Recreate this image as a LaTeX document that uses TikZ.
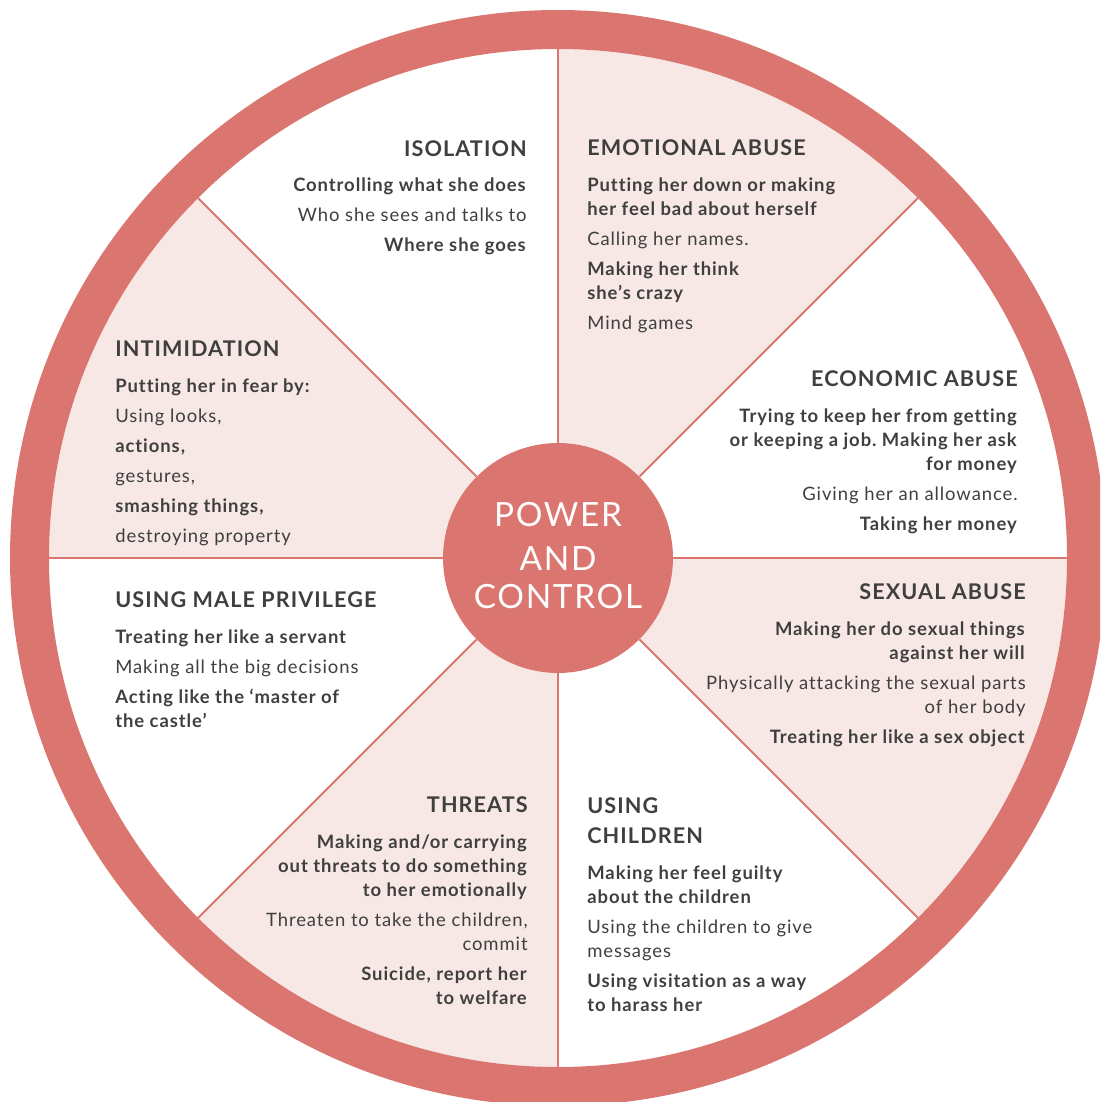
\documentclass[tikz,border=0pt]{standalone}
\usepackage{fontspec}
\setmainfont{Lato}[LetterSpace=5,Ligatures=NoCommon]
\usepackage{xcolor}

\definecolor{ringred}{HTML}{DB7570}
\definecolor{blush}{HTML}{F7E8E5}
\definecolor{ink}{HTML}{3F3F3F}

\newcommand\wheelhead{\fontsize{12.3}{17.07}\selectfont\bfseries}
\newcommand\wheelbody{\fontsize{10.5}{13.66}\selectfont}
\newcommand\hubfont{\fontsize{19}{21.6}\selectfont}
\frenchspacing

\begin{document}
\begin{tikzpicture}[x=0.02cm,y=-0.02cm,
  head/.style={text=ink, font=\wheelhead, inner sep=0pt},
  body/.style={text=ink, font=\wheelbody, inner sep=0pt},
  spoke/.style={draw=ringred, line width=0.04cm}]
\useasboundingbox (0,0) rectangle (1100,1102);
\clip (0,0) rectangle (1100,1102);

\coordinate (mid) at (558,558);
% ends of the spokes on the rim
\coordinate (r0) at (1067,558);
\coordinate (r45) at (918,198);
\coordinate (r90) at (558,49);
\coordinate (r135) at (198,198);
\coordinate (r180) at (49,558);
\coordinate (r225) at (198,918);
\coordinate (r270) at (558,1067);
\coordinate (r315) at (918,918);

% shaded sectors
\fill[blush] (mid) -- (r45) arc[start angle=-45, end angle=-90, radius=509] -- cycle;
\fill[blush] (mid) -- (r135) arc[start angle=-135, end angle=-180, radius=509] -- cycle;
\fill[blush] (mid) -- (r225) arc[start angle=-225, end angle=-270, radius=509] -- cycle;
\fill[blush] (mid) -- (r315) arc[start angle=-315, end angle=-360, radius=509] -- cycle;

\node[circle, fill=ringred, minimum size=4.6cm, inner sep=0pt, text=white,
  font=\hubfont, align=center, text depth=3.4pt] (hub) at (mid) {POWER\\[0.12cm]AND\\CONTROL};

\draw[spoke] (hub.0) -- (r0);
\draw[spoke] (hub.45) -- (r45);
\draw[spoke] (hub.90) -- (r90);
\draw[spoke] (hub.135) -- (r135);
\draw[spoke] (hub.180) -- (r180);
\draw[spoke] (hub.225) -- (r225);
\draw[spoke] (hub.270) -- (r270);
\draw[spoke] (hub.315) -- (r315);

% rim
\fill[ringred, even odd rule] (mid) circle (548) (mid) circle (509);

% isolation
\node[head, anchor=base east] (isohead) at (527,156) {ISOLATION};
\node[body, align=right, anchor=base east] (isobody) at (527,251)
  {\textbf{Controlling what she does}\\[0.12cm]
   Who she sees and talks to\\[0.12cm]
   \textbf{Where she goes}};

% emotional abuse
\node[head, anchor=base west] (emohead) at (587,155) {EMOTIONAL ABUSE};
\node[body, align=left, anchor=base west] (emobody) at (587,329)
  {\textbf{Putting her down or making}\\
   \textbf{her feel bad about herself}\\[0.12cm]
   Calling her names.\\[0.12cm]
   \textbf{Making her think}\\
   \textbf{she’s crazy}\\[0.12cm]
   Mind games};

% economic abuse
\node[head, anchor=base east] (ecohead) at (1018,386) {ECONOMIC ABUSE};
\node[body, align=right, anchor=base east] (ecobody) at (1018,530)
  {\textbf{Trying to keep her from getting}\\
   \textbf{or keeping a job. Making her ask}\\
   \textbf{for money}\\[0.12cm]
   Giving her an allowance.\\[0.12cm]
   \textbf{Taking her money}};

% sexual abuse
\node[head, anchor=base east] (sexhead) at (1026,599) {SEXUAL ABUSE};
\node[body, align=right, anchor=base east] (sexbody) at (1026,743)
  {\textbf{Making her do sexual things}\\
   \textbf{against her will}\\[0.12cm]
   Physically attacking the sexual parts\\
   of her body\\[0.12cm]
   \textbf{Treating her like a sex object}};

% using children
\node[head, align=left, anchor=base west] (kidhead) at (587,843) {USING\\CHILDREN};
\node[body, align=left, anchor=base west] (kidbody) at (587,1011)
  {\textbf{Making her feel guilty}\\
   \textbf{about the children}\\[0.12cm]
   Using the children to give\\
   messages\\[0.12cm]
   \textbf{Using visitation as a way}\\
   \textbf{to harass her}};

% threats
\node[head, anchor=base east] (thrhead) at (528,812) {THREATS};
\node[body, align=right, anchor=base east] (thrbody) at (528,1004)
  {\textbf{Making and/or carrying}\\
   \textbf{out threats to do something}\\
   \textbf{to her emotionally}\\[0.12cm]
   Threaten to take the children,\\
   commit\\[0.12cm]
   \textbf{Suicide, report her}\\
   \textbf{to welfare}};

% using male privilege
\node[head, anchor=base west] (malhead) at (115,607) {USING MALE PRIVILEGE};
\node[body, align=left, anchor=base west] (malbody) at (115,727)
  {\textbf{Treating her like a servant}\\[0.12cm]
   Making all the big decisions\\[0.12cm]
   \textbf{Acting like the ‘master of}\\
   \textbf{the castle’}};

% intimidation
\node[head, anchor=base west] (intihead) at (115,356) {INTIMIDATION};
\node[body, align=left, anchor=base west] (intibody) at (115,542)
  {\textbf{Putting her in fear by:}\\[0.12cm]
   Using looks,\\[0.12cm]
   \textbf{actions,}\\[0.12cm]
   gestures,\\[0.12cm]
   \textbf{smashing things,}\\[0.12cm]
   destroying property};
\end{tikzpicture}
\end{document}
